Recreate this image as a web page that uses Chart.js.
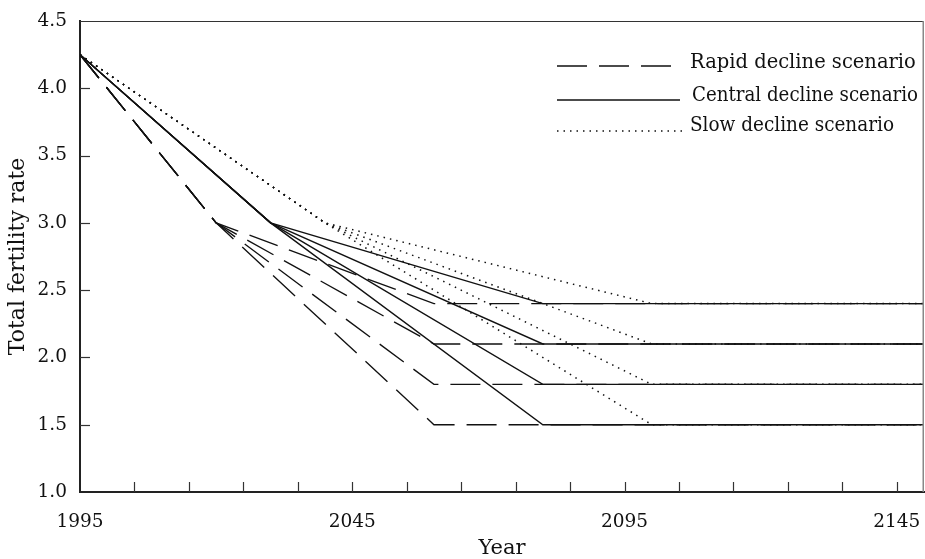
<!DOCTYPE html>
<html><head><meta charset="utf-8">
<script src="https://cdn.jsdelivr.net/npm/chart.js@4.4.1/dist/chart.umd.min.js"></script>
<style>html,body{margin:0;padding:0;background:#fff}#wrap{width:925px;height:559px;position:relative}</style>
</head><body><div id="wrap"><canvas id="c"></canvas></div>
<script>
// ---- data ----
const targets = [2.4, 2.1, 1.8, 1.5];          // long-run total fertility rates
const startYear = 1995;
const endYear = 2150;
const startRate = 4.25;                         // TFR in 1995
const pivotRate = 3.0;                          // rate where the scenarios fan out
const rapidYears = [2020, 2060];                // [year reaching 3.0, year reaching target]
const centralYears = [2030, 2080];
const slowYears = [2040, 2100];
const scenarioNames = ['Rapid decline scenario', 'Central decline scenario', 'Slow decline scenario'];
const xTickYears = [1995, 2005, 2015, 2025, 2035, 2045, 2055, 2065, 2075, 2085, 2095, 2105, 2115, 2125, 2135, 2145];
const xLabelYears = [1995, 2045, 2095, 2145];
const yTickValues = [1.0, 1.5, 2.0, 2.5, 3.0, 3.5, 4.0, 4.5];

const FONT = "'DejaVu Serif', serif";
const INK = '#111';
const styles = [[30, 12], [], [1.5, 5]];
const scenarioYears = [rapidYears, centralYears, slowYears];

const datasets = [];
scenarioYears.forEach((yrs, s) => {
  targets.forEach((t, i) => {
    datasets.push({
      label: scenarioNames[s],
      data: [
        {x: startYear, y: startRate},
        {x: yrs[0], y: pivotRate},
        {x: yrs[1], y: t},
        {x: endYear, y: t}
      ],
      borderColor: INK,
      borderWidth: s === 2 ? 1.5 : 1.35,
      borderDash: styles[s],
      pointRadius: 0,
      tension: 0,
      fill: false
    });
  });
});

const framePlugin = {
  id: 'frame',
  afterDraw(chart) {
    const {ctx, chartArea: a, scales: {x, y}} = chart;
    ctx.save();
    ctx.setLineDash([]);
    // top and right border
    ctx.strokeStyle = '#333';
    ctx.lineWidth = 1;
    ctx.beginPath();
    ctx.moveTo(a.left, a.top + 0.5); ctx.lineTo(a.right, a.top + 0.5);
    ctx.stroke();
    ctx.strokeStyle = '#888';
    ctx.lineWidth = 1.5;
    ctx.beginPath();
    ctx.moveTo(a.right - 0.75, a.top); ctx.lineTo(a.right - 0.75, a.bottom);
    ctx.stroke();
    // inward tick marks
    ctx.strokeStyle = '#333';
    ctx.lineWidth = 1.2;
    xTickYears.forEach(v => {
      if (v === startYear) return;
      const px = Math.round(x.getPixelForValue(v)) + 0.5;
      ctx.beginPath(); ctx.moveTo(px, a.bottom); ctx.lineTo(px, a.bottom - 10); ctx.stroke();
    });
    yTickValues.forEach(v => {
      if (v === 1.0 || v === 4.5) return;
      const py = Math.round(y.getPixelForValue(v)) + 0.5;
      ctx.beginPath(); ctx.moveTo(a.left, py); ctx.lineTo(a.left + 10, py); ctx.stroke();
    });
    // legend
    const rows = [
      {y: 66, x0: 557, x1: 676, tx: 690, ty: 63, w: 227},
      {y: 100, x0: 557, x1: 680, tx: 692, ty: 96, w: 226},
      {y: 131, x0: 557, x1: 683, tx: 690, ty: 126, w: 204}
    ];
    rows.forEach((r, s) => {
      ctx.strokeStyle = INK;
      ctx.lineWidth = s === 2 ? 1.5 : 1.35;
      ctx.setLineDash(styles[s]);
      ctx.beginPath(); ctx.moveTo(r.x0, r.y); ctx.lineTo(r.x1, r.y); ctx.stroke();
      ctx.setLineDash([]);
      ctx.fillStyle = INK;
      ctx.font = "19.5px " + FONT;
      ctx.textAlign = 'left';
      ctx.textBaseline = 'middle';
      ctx.fillText(scenarioNames[s], r.tx, r.ty, r.w);
    });
    ctx.restore();
  }
};

new Chart(document.getElementById('c'), {
  type: 'line',
  data: {datasets},
  plugins: [framePlugin],
  options: {
    responsive: true,
    maintainAspectRatio: false,
    animation: false,
    layout: {padding: {top: 21, right: 1, left: 0, bottom: 0}},
    plugins: {legend: {display: false}, tooltip: {enabled: false}},
    scales: {
      x: {
        type: 'linear',
        min: startYear,
        max: endYear,
        afterBuildTicks: s => { s.ticks = xTickYears.concat([endYear]).map(v => ({value: v})); },
        afterFit: s => { s.height = 67; s.paddingLeft = 0; s.paddingRight = 0; },
        grid: {display: false, drawTicks: false},
        border: {display: true, color: '#222', width: 2},
        ticks: {
          autoSkip: false, maxRotation: 0, padding: 19, color: INK,
          font: {family: FONT, size: 18.5},
          callback: v => xLabelYears.includes(v) ? String(v) : ''
        },
        title: {display: true, text: 'Year', color: INK, font: {family: FONT, size: 21, lineHeight: 1}, padding: {top: 0, bottom: 0}}
      },
      y: {
        type: 'linear',
        min: 1.0,
        max: 4.5,
        afterBuildTicks: s => { s.ticks = yTickValues.map(v => ({value: v})); },
        afterFit: s => { s.width = 80; s.paddingTop = 0; s.paddingBottom = 0; },
        grid: {display: false, drawTicks: false},
        border: {display: true, color: '#222', width: 2},
        ticks: {
          padding: 13, color: INK,
          font: {family: FONT, size: 18.5},
          callback: v => Number(v).toFixed(1)
        },
        title: {display: true, text: 'Total fertility rate', color: INK, font: {family: FONT, size: 22, lineHeight: 1}, padding: {top: 7, bottom: 0}}
      }
    }
  }
});
</script>
</body></html>
